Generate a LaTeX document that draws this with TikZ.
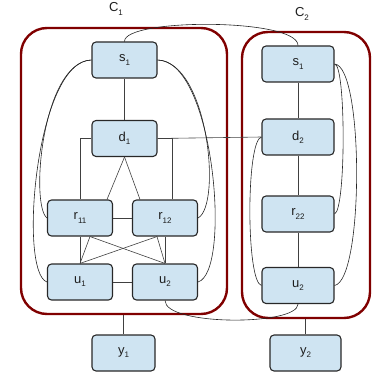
\documentclass[tikz,border=0pt]{standalone}
\usepackage{fontspec}
\setmainfont{Liberation Sans}
\definecolor{boxfill}{RGB}{207,228,242}
\definecolor{boxline}{RGB}{40,40,40}
\definecolor{grp}{RGB}{128,0,0}
\definecolor{txt}{RGB}{30,30,30}
\newcommand{\lsub}[1]{\raisebox{-0.45ex}{\fontsize{8}{9}\selectfont #1}}
\begin{document}
\begin{tikzpicture}[x=1pt,y=-1pt,
  box/.style={draw=boxline,fill=boxfill,line width=1.1pt,rounded corners=4pt,
    minimum width=65pt,minimum height=36pt,inner sep=0pt,text=txt,
    font=\fontsize{13}{15}\selectfont},
  wbox/.style={box,minimum width=72pt},
  grpbox/.style={draw=grp,line width=2.4pt,rounded corners=26pt,inner sep=0pt},
  conn/.style={draw=black!75,line width=0.6pt},
  curve/.style={draw=black!85,line width=0.6pt},
  lbl/.style={text=txt,font=\fontsize{13}{15}\selectfont}]
\useasboundingbox (0,0) rectangle (385,374);
% groups
\node[grpbox,minimum width=206pt,minimum height=286pt] (C1) at (124,171) {};
\node[grpbox,minimum width=128pt,minimum height=286pt] (C2) at (306,175) {};
\node[lbl] (l1) at (116,9) {C\lsub{1}};
\node[lbl] (l2) at (302,14) {C\lsub{2}};
% nodes C1
\node[box] (s1a) at (124.5,60) {s\lsub{1}};
\node[box] (d1) at (124.5,138.5) {d\lsub{1}};
\node[box] (r11) at (80,218) {r\lsub{11}};
\node[box] (r12) at (165,218) {r\lsub{12}};
\node[box] (u1) at (80,282) {u\lsub{1}};
\node[box] (u2a) at (165,282) {u\lsub{2}};
\node[box,minimum width=63pt] (y1) at (123.5,353) {y\lsub{1}};
% nodes C2
\node[wbox] (s1b) at (298,64) {s\lsub{1}};
\node[wbox] (d2) at (298,137) {d\lsub{2}};
\node[wbox] (r22) at (298,214) {r\lsub{22}};
\node[wbox] (u2b) at (298,285.5) {u\lsub{2}};
\node[box,minimum width=71pt] (y2) at (305.5,353) {y\lsub{2}};
% straight connectors
\path[conn] (s1a.south) -- (d1.north);
\path[conn] (d1.west) -| (r11.north);
\path[conn] (d1.east) -- (d2.west);
\path[conn] ([xshift=7pt]r12.north) |- (d1.east);
\path[conn] (d1.south) -- ([xshift=27pt]r11.north);
\path[conn] (d1.south) -- ([xshift=-25pt]r12.north);
\path[conn] (r11.east) -- (r12.west);
\path[conn] (r11.south) -- (u1.north);
\path[conn] (r12.south) -- (u2a.north);
\path[conn] (u1.east) -- (u2a.west);
\path[conn] ([xshift=10pt]r11.south) -- (u1.north);
\path[conn] ([xshift=10pt]r11.south) -- (u2a.north);
\path[conn] ([xshift=-8pt]r12.south) -- (u1.north);
\path[conn] ([xshift=-8pt]r12.south) -- (u2a.north);
\path[conn] (y1.north) -- (y1.north |- C1.south);
\path[conn] (s1b.south) -- (d2.north);
\path[conn] (d2.south) -- (r22.north);
\path[conn] (r22.south) -- (u2b.north);
\path[conn] (y2.north) -- (y2.north |- C2.south);
% curves
\path[curve] (s1a.north) .. controls (124,18) and (298,18) .. (s1b.north);
\path[curve] (s1a.west) .. controls (42,62) and (30,205) .. (r11.west);
\path[curve] (s1a.west) .. controls (36,60) and (18,272) .. (u1.west);
\path[curve] (s1a.east) .. controls (208,62) and (222,205) .. (r12.east);
\path[curve] (s1a.east) .. controls (214,60) and (232,272) .. (u2a.east);
\path[curve] (s1b.east) .. controls (346,64) and (346,210) .. (r22.east);
\path[curve] (s1b.east) .. controls (364,66) and (364,280) .. (u2b.east);
\path[curve] (d2.west) .. controls (246,140) and (246,282) .. (u2b.west);
\path[curve] (u2a.south) .. controls (165,326) and (298,326) .. (u2b.south);
\end{tikzpicture}
\end{document}
